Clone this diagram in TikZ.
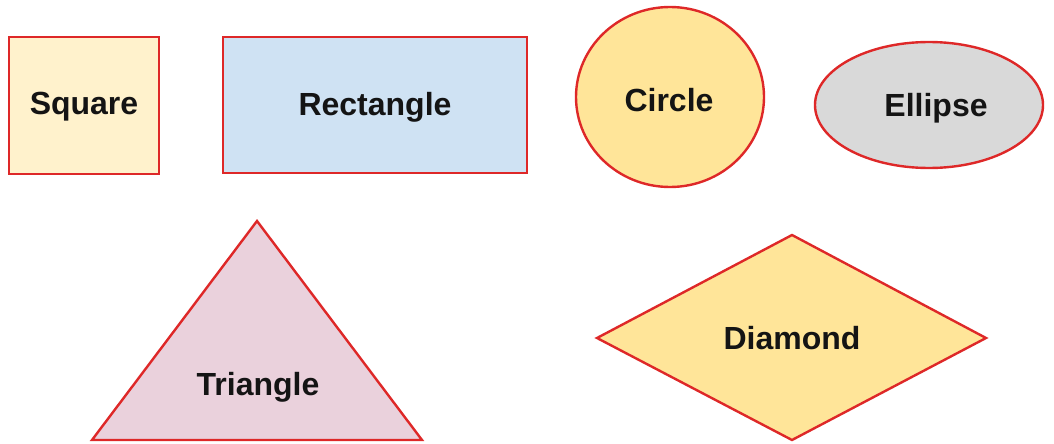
\documentclass[tikz,border=0pt]{standalone}
\usepackage{fontspec}
\setmainfont{Liberation Sans}
\definecolor{edge}{RGB}{222,40,40}
\definecolor{sqfill}{HTML}{FFF2CC}
\definecolor{rectfill}{HTML}{CFE2F3}
\definecolor{yelfill}{HTML}{FFE599}
\definecolor{greyfill}{HTML}{D9D9D9}
\definecolor{pinkfill}{HTML}{EAD1DC}
\tikzset{
  shapeline/.style={draw=edge, line width=2.4pt, line join=miter},
  lbl/.style={font=\bfseries\fontsize{32}{37}\selectfont, text=black!92, inner sep=0pt}
}
\begin{document}
\begin{tikzpicture}[x=1pt,y=-1pt]
\useasboundingbox (0,0) rectangle (1054,444);
% Square
\draw[shapeline, fill=sqfill] (9,37) rectangle (159,174);
\node[lbl] (square) at (84,107) {Square};
% Rectangle
\draw[shapeline, fill=rectfill] (223,37) rectangle (527,173);
\node[lbl] (rectangle) at (375,107) {Rectangle};
% Circle
\draw[shapeline, fill=yelfill] (670,97) ellipse [x radius=94, y radius=90];
\node[lbl] (circle) at (669,100) {Circle};
% Ellipse
\draw[shapeline, fill=greyfill] (929,105) ellipse [x radius=114, y radius=63];
\node[lbl] (ellipse) at (936,108) {Ellipse};
% Triangle
\draw[shapeline, fill=pinkfill] (257,221) -- (422,440) -- (92,440) -- cycle;
\node[lbl] (triangle) at (258,387) {Triangle};
% Diamond
\draw[shapeline, fill=yelfill] (597,338) -- (792,235) -- (986,338) -- (792,440) -- cycle;
\node[lbl] (diamond) at (792,338) {Diamond};
\end{tikzpicture}
\end{document}
